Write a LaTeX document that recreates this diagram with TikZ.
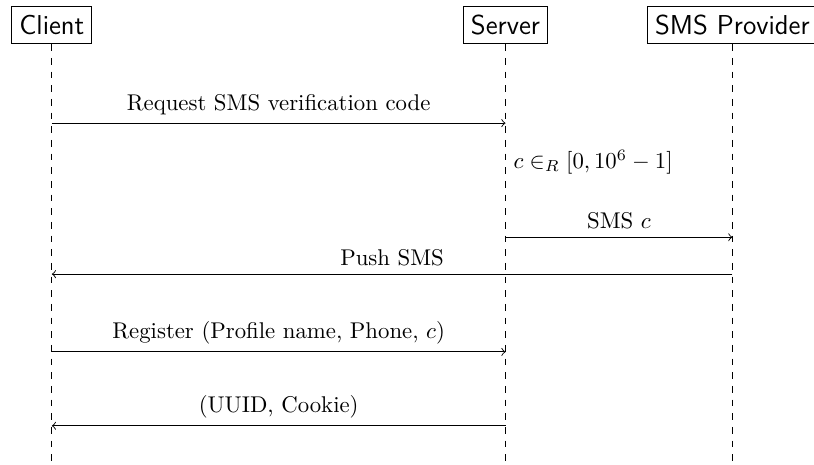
\documentclass[tikz,border=0pt]{standalone}
\usepackage{amsmath}
\begin{document}
\begin{tikzpicture}[actor/.style={draw=black,rectangle,fill=white,font=\sffamily\large,minimum height=0.57cm},
  msg/.style={->},life/.style={dashed}]
\useasboundingbox (-0.8,0) rectangle (11.76,-7.16);
\node[actor] (PC) at (0,-0.39) {Client};
\node[actor] (PS) at (7,-0.39) {Server};
\node[actor] (PP) at (10.5,-0.39) {SMS Provider};
\coordinate (end) at (0,-7.16);
\draw[life] (PC) -- (PC |- end);
\draw[life] (PS) -- (PS |- end);
\draw[life] (PP) -- (PP |- end);
\coordinate (M1) at (0,-1.9);
\coordinate (M2) at (0,-2.5);
\coordinate (M3) at (0,-3.66);
\coordinate (M4) at (0,-4.23);
\coordinate (M5) at (0,-5.43);
\coordinate (M6) at (0,-6.57);
\draw[msg] (PC |- M1) -- node[above] (LA) {Request SMS verification code} (PS |- M1);
\node[right] (LB) at (PS |- M2) {$c \in_R [0, 10^6-1]$};
\draw[msg] (PS |- M3) -- node[above] (LC) {SMS $c$} (PP |- M3);
\draw[msg] (PP |- M4) -- node[above] (LD) {Push SMS} (PC |- M4);
\draw[msg] (PC |- M5) -- node[above] (LE) {Register (Profile name, Phone, $c$)} (PS |- M5);
\draw[msg] (PS |- M6) -- node[above] (LF) {(UUID, Cookie)} (PC |- M6);
\end{tikzpicture}
\end{document}
